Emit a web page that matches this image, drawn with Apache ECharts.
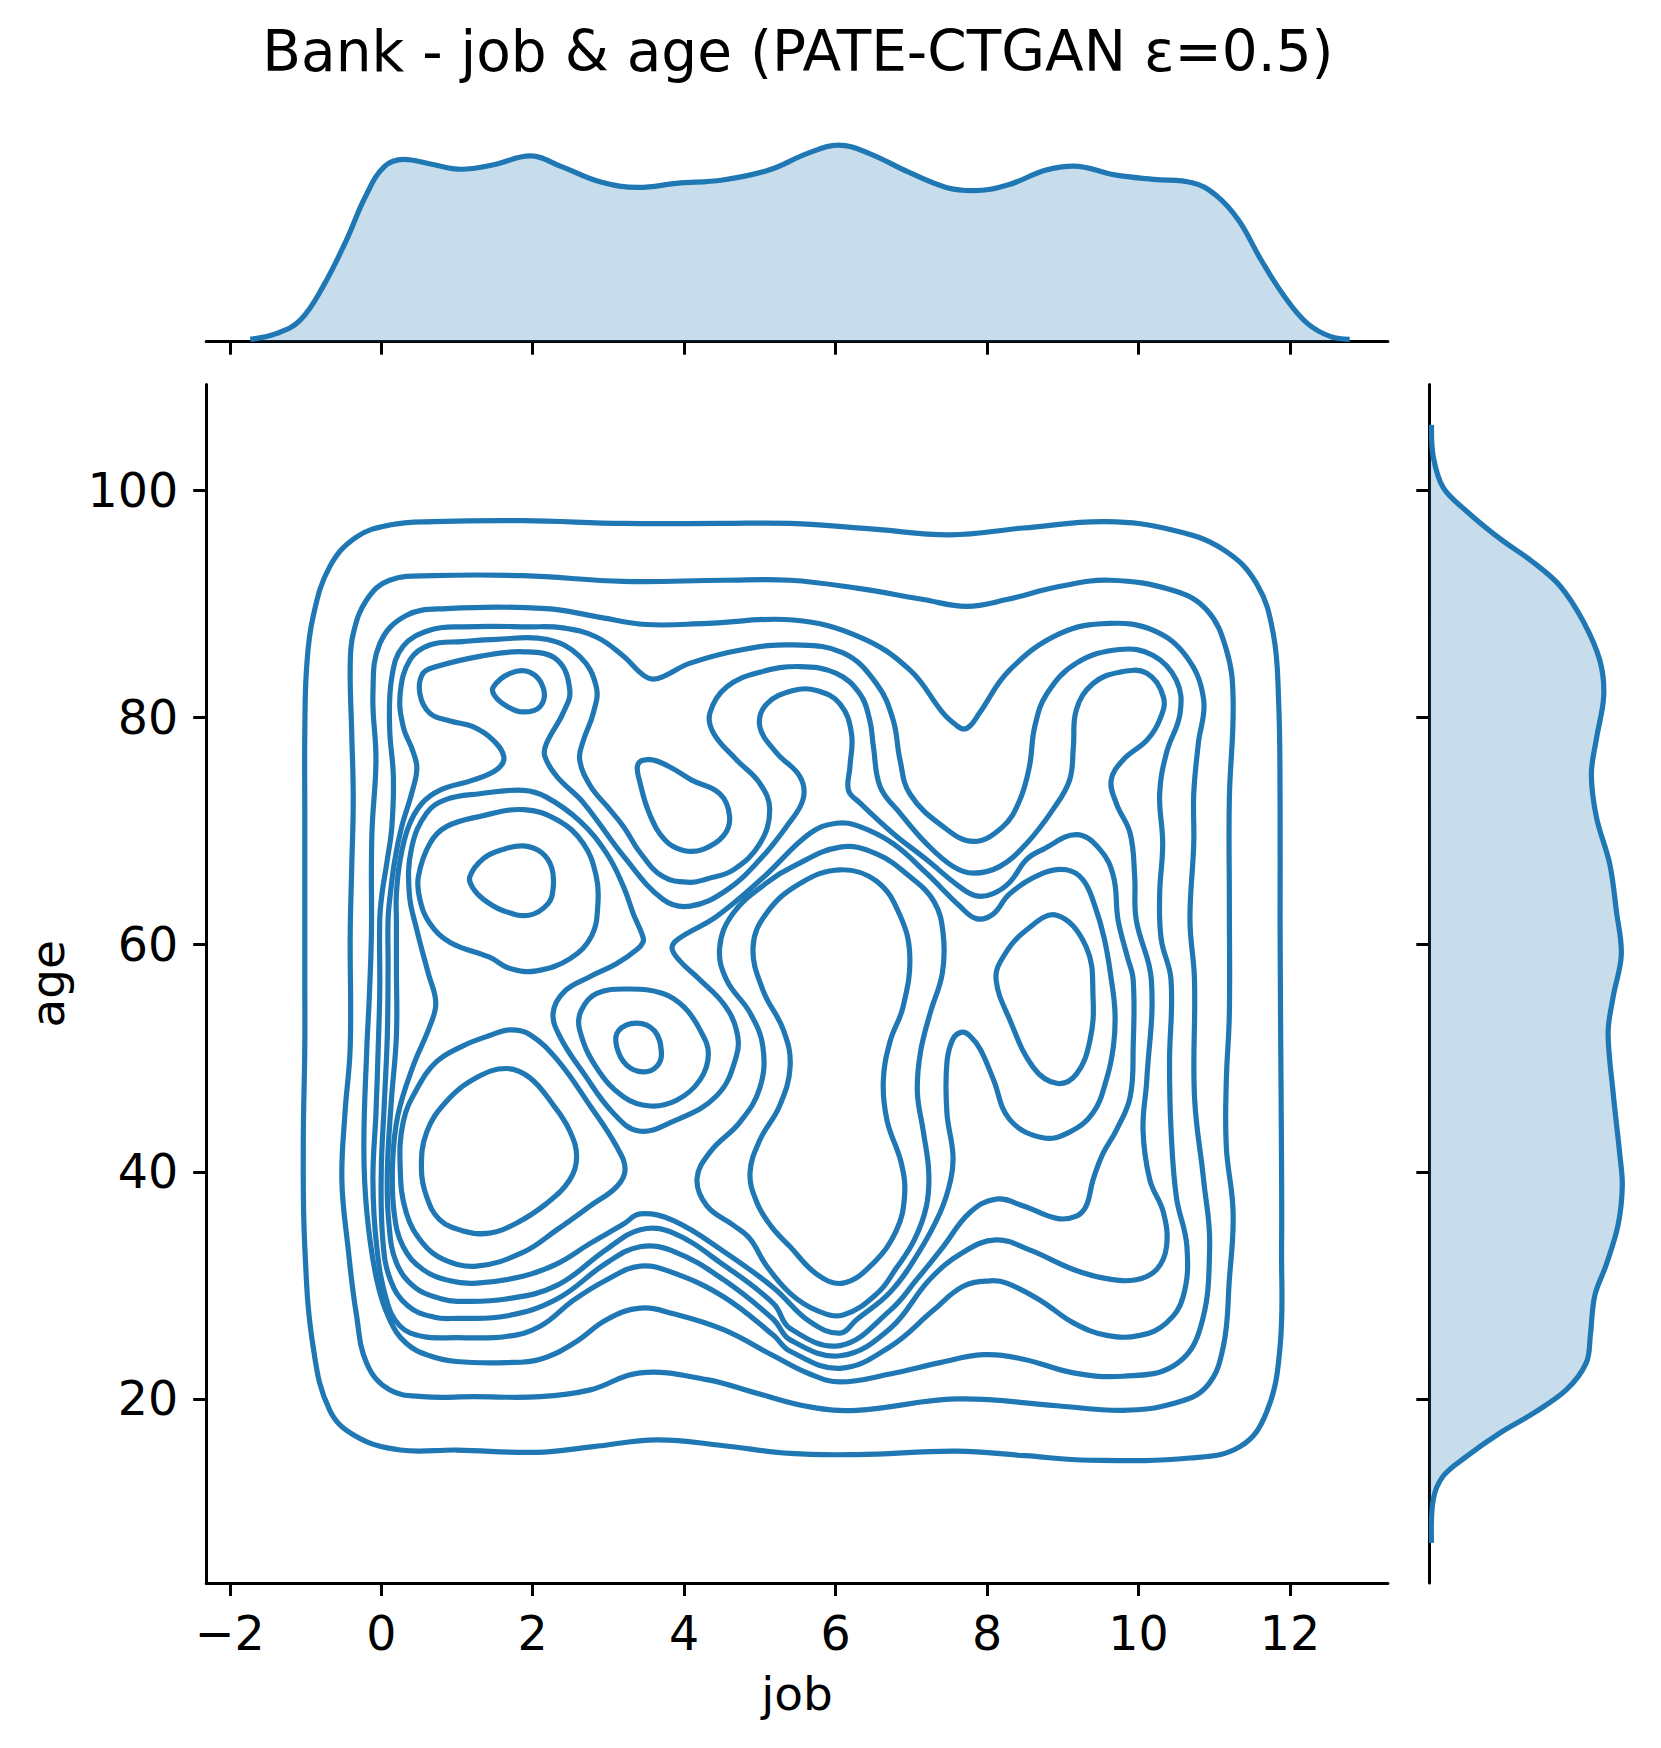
<!DOCTYPE html>
<html>
<head>
<meta charset="utf-8">
<script src="https://cdn.jsdelivr.net/npm/echarts/dist/echarts.min.js"></script>
<style>
html,body{margin:0;padding:0;background:#ffffff;}
#chart{width:1661px;height:1748px;}
</style>
</head>
<body>
<div id="chart"></div>
<script>
// ---------- tick values ----------
const jobTicks = [-2, 0, 2, 4, 6, 8, 10, 12];
const ageTicks = [20, 40, 60, 80, 100];

// ---------- marginal KDE of job (top) ----------
const jobKdeX = [-1.73,-1.38,-1.07,-0.77,-0.46,-0.21,0.04,0.30,0.65,1.06,1.47,1.97,2.38,2.89,3.40,3.90,4.51,5.12,5.63,6.04,6.44,6.95,7.46,7.82,8.27,8.78,9.14,9.69,10.20,10.71,11.02,11.32,11.62,11.93,12.23,12.54,12.79];
const jobKdeY = [0.0012,0.0041,0.0107,0.0273,0.0504,0.0719,0.0868,0.0904,0.0881,0.0855,0.0876,0.0921,0.0868,0.0793,0.0765,0.0785,0.0802,0.0851,0.0934,0.0975,0.0934,0.0843,0.0765,0.0749,0.0777,0.0851,0.0871,0.0827,0.0805,0.0788,0.0727,0.0603,0.0405,0.0223,0.0091,0.0025,0.0012];

// ---------- marginal KDE of age (right) ----------
const ageKdeAge = [105.78,103.0,100.25,98.18,95.76,93.69,91.62,88.51,85.05,81.94,78.14,75.03,71.23,67.09,62.95,59.14,55.35,52.24,47.06,41.53,38.77,35.31,31.86,29.09,25.64,23.22,20.81,18.73,17.0,14.94,13.21,11.13,7.33];
const ageKdeVal = [0.00016,0.00028,0.00099,0.00265,0.00502,0.00738,0.00928,0.01093,0.01212,0.0124,0.01188,0.01152,0.01188,0.01283,0.0133,0.01365,0.01306,0.01271,0.01306,0.01354,0.01372,0.01342,0.01259,0.01176,0.01145,0.01117,0.00975,0.00738,0.00502,0.00265,0.00099,0.00028,0.00016];

// ---------- joint KDE contour lines (closed loops), [job, age] ----------
const contourL1 = [
 [[-1.01,51.0],[-1.01,56.9],[-1.01,66.0],[-1.01,72.0],[-1.01,78.6],[-0.985,84.5],[-0.90,88.9],[-0.68,93.3],[-0.33,95.9],[0.11,96.96],[0.69,97.26],[1.88,97.35],[3.2,97.1],[4.5,97.1],[5.4,97.1],[6.5,96.6],[7.51,96.1],[8.48,96.7],[9.58,97.26],[10.46,96.5],[11.12,94.8],[11.56,91.8],[11.78,87.4],[11.85,81.6],[11.87,72.8],[11.87,62.0],[11.88,50.0],[11.89,40.0],[11.89,33.4],[11.87,24.6],[11.69,18.8],[11.34,15.8],[10.68,14.8],[9.36,14.6],[8.5,15.0],[7.6,15.4],[6.28,15.1],[5.40,15.2],[4.5,15.9],[3.64,16.4],[2.8,15.8],[2.05,15.3],[1.0,15.5],[0.25,15.5],[-0.33,16.7],[-0.68,19.0],[-0.90,24.6],[-1.01,33.4],[-1.03,42.2],[-1.01,51.0]]
];
const contourL2 = [
 [[-0.41,51.0],[-0.41,61.0],[-0.39,66.9],[-0.37,72.8],[-0.39,78.6],[-0.41,84.5],[-0.37,87.4],[-0.19,90.4],[0.11,92.1],[0.69,92.5],[1.88,92.5],[3.2,92.0],[4.52,92.1],[5.40,92.1],[6.28,91.4],[7.16,90.4],[7.73,89.8],[8.26,90.4],[8.92,91.5],[9.62,92.1],[10.46,91.2],[10.9,89.5],[11.16,86.0],[11.25,81.6],[11.2,72.8],[11.2,63.9],[11.2,53.9],[11.16,48.0],[11.16,42.2],[11.25,36.4],[11.2,30.5],[11.12,24.6],[10.9,21.1],[10.46,19.6],[9.8,19.0],[8.92,19.4],[7.6,20.0],[6.28,19.0],[5.66,19.3],[4.96,20.5],[4.3,21.7],[3.42,22.3],[2.76,20.8],[2.1,20.2],[1.22,20.2],[0.55,20.2],[0.11,20.8],[-0.19,23.1],[-0.33,27.5],[-0.44,33.4],[-0.52,39.2],[-0.48,45.1],[-0.41,51.0]]
];
const contourL3 = [
 [[-0.19,51.0],[-0.16,55.1],[-0.13,61.0],[-0.13,66.9],[-0.12,70.4],[-0.07,76.3],[-0.11,82.1],[-0.02,86.5],[0.33,89.0],[0.86,89.6],[2.18,89.6],[2.84,88.9],[3.5,88.2],[4.3,88.3],[5.44,88.6],[6.32,87.1],[6.98,84.2],[7.42,80.4],[7.6,79.3],[7.69,79.0],[7.78,79.3],[7.90,80.4],[8.30,84.2],[8.96,87.4],[9.62,88.3],[10.19,87.7],[10.63,85.4],[10.86,81.6],[10.79,77.7],[10.73,73.3],[10.73,68.9],[10.68,62.2],[10.74,56.9],[10.74,46.6],[10.86,39.3],[10.94,33.4],[10.81,26.1],[10.46,22.9],[9.80,22.0],[9.14,22.3],[8.48,23.5],[7.95,23.9],[7.38,23.2],[6.72,22.2],[6.06,21.5],[5.66,22.2],[5.18,23.8],[4.52,26.1],[3.86,27.5],[3.42,28.0],[2.98,27.0],[2.54,24.9],[2.10,23.5],[1.65,23.2],[0.99,23.3],[0.64,23.8],[0.33,24.9],[0.11,27.0],[-0.06,30.5],[-0.19,36.4],[-0.23,42.2],[-0.19,51.0]]
];
const contourL4 = [
 [[-0.02,56.0],[-0.02,62.2],[0.01,64.5],[0.08,67.5],[0.14,70.4],[0.16,74.8],[0.11,79.2],[0.14,83.6],[0.29,86.3],[0.64,87.7],[1.08,88.0],[1.96,88.0],[2.40,87.9],[2.84,87.1],[3.20,85.4],[3.45,83.8],[3.59,83.4],[3.75,83.7],[4.08,84.8],[4.78,86.0],[5.44,86.4],[6.10,85.7],[6.54,83.0],[6.76,79.8],[6.85,76.3],[6.98,73.3],[7.42,70.4],[7.82,69.1],[8.21,70.4],[8.43,72.7],[8.56,75.7],[8.63,79.2],[8.79,82.1],[9.18,84.8],[9.75,86.0],[10.19,85.5],[10.50,83.3],[10.55,80.4],[10.37,76.9],[10.28,73.3],[10.32,68.9],[10.28,64.5],[10.30,60.5],[10.43,56.9],[10.41,49.6],[10.43,43.7],[10.50,37.8],[10.64,33.4],[10.59,29.0],[10.37,26.7],[10.02,25.6],[9.58,25.6],[9.14,26.7],[8.70,28.7],[8.26,30.2],[8.04,30.4],[7.68,29.9],[7.29,27.8],[6.72,24.6],[6.06,22.7],[5.4,24.2],[5.18,25.6],[4.52,29.0],[3.86,31.1],[3.42,31.7],[2.98,30.5],[2.54,28.7],[2.10,26.4],[1.65,25.5],[0.99,25.4],[0.55,25.5],[0.25,26.4],[0.07,28.7],[-0.06,33.4],[-0.11,39.3],[-0.07,45.2],[-0.04,51.0],[-0.02,56.0]]
];
const contourL5 = [
 [[0.04,46.0],[0.08,52.0],[0.09,58.0],[0.09,62.2],[0.12,64.5],[0.18,67.5],[0.27,70.4],[0.40,73.3],[0.47,75.5],[0.42,77.0],[0.29,79.2],[0.25,82.1],[0.38,85.1],[0.64,86.4],[1.08,86.7],[1.52,86.9],[2.18,86.9],[2.62,85.4],[2.84,82.7],[2.80,80.4],[2.67,78.0],[2.62,76.3],[2.76,74.0],[2.98,72.2],[3.20,70.4],[3.42,68.1],[3.72,66.0],[4.08,65.5],[4.30,65.8],[4.65,66.6],[5.0,68.9],[5.13,71.9],[5.0,74.2],[4.69,76.3],[4.39,78.6],[4.34,80.4],[4.56,82.7],[5.0,84.0],[5.53,84.5],[6.01,83.9],[6.32,82.1],[6.45,79.8],[6.50,77.4],[6.59,73.9],[6.85,71.6],[7.20,68.9],[7.55,66.9],[7.82,66.3],[8.17,66.9],[8.52,68.9],[8.87,71.9],[9.09,74.5],[9.14,77.4],[9.18,80.7],[9.40,83.0],[9.75,84.0],[10.11,83.9],[10.33,81.8],[10.28,79.8],[10.11,78.0],[9.80,76.3],[9.64,74.5],[9.71,72.4],[9.89,69.8],[9.95,66.0],[9.97,62.2],[10.17,56.9],[10.11,48.1],[10.06,43.7],[10.15,39.3],[10.33,36.4],[10.37,33.4],[10.24,31.4],[9.97,30.5],[9.58,30.6],[9.14,31.4],[8.57,33.1],[8.12,34.0],[7.68,32.9],[7.24,30.5],[6.72,26.2],[6.06,23.8],[5.4,25.2],[5.18,27.0],[4.52,30.5],[3.86,33.0],[3.42,33.4],[2.98,32.0],[2.32,28.8],[1.65,27.3],[1.0,27.1],[0.7,27.2],[0.35,28.2],[0.12,30.5],[0.02,34.0],[0.0,40.0],[0.04,46.0]],
 [[3.39,75.9],[3.55,76.3],[3.8,75.7],[4.1,74.5],[4.47,73.3],[4.60,71.3],[4.52,69.6],[4.25,68.4],[3.99,68.3],[3.75,69.2],[3.55,71.4],[3.42,74.2],[3.39,75.9]]
];
const contourL6 = [
 [[0.13,46.0],[0.2,52.0],[0.2,58.0],[0.2,62.0],[0.2,64.5],[0.25,67.5],[0.36,70.4],[0.53,72.4],[0.77,73.6],[1.21,74.5],[1.52,75.4],[1.62,76.5],[1.48,78.0],[1.21,79.2],[0.91,79.7],[0.64,80.4],[0.51,82.1],[0.55,83.9],[0.73,84.5],[1.30,85.4],[1.88,85.8],[2.32,85.1],[2.49,82.4],[2.40,80.4],[2.18,77.7],[2.16,76.6],[2.32,74.8],[2.67,72.5],[3.20,67.8],[3.72,64.0],[4.08,63.4],[4.56,64.8],[5.0,67.5],[5.35,70.4],[5.57,72.8],[5.53,74.8],[5.22,76.9],[5.0,79.2],[5.09,81.2],[5.44,82.4],[5.75,82.4],[6.06,81.2],[6.21,78.6],[6.19,75.7],[6.17,73.6],[6.32,72.5],[6.76,69.8],[7.20,67.5],[7.64,65.1],[7.86,64.3],[8.08,64.5],[8.30,65.5],[8.52,67.5],[8.74,68.4],[9.18,69.7],[9.49,68.4],[9.67,66.0],[9.73,62.2],[9.85,59.0],[9.93,56.9],[9.93,51.0],[9.89,46.6],[9.71,43.7],[9.53,41.6],[9.40,39.3],[9.31,37.0],[9.18,36.1],[8.92,35.9],[8.48,37.0],[8.12,37.6],[7.77,36.4],[7.42,33.4],[7.07,30.5],[6.72,27.8],[6.06,24.7],[5.4,26.2],[5.18,28.4],[4.52,31.8],[3.86,34.6],[3.42,34.9],[2.98,33.2],[2.32,30.0],[1.65,28.8],[1.0,28.6],[0.8,28.8],[0.45,29.8],[0.2,32.0],[0.1,35.5],[0.08,40.0],[0.13,46.0]]
];
const contourL7 = [
 [[0.22,45.0],[0.42,49.3],[0.64,52.8],[0.72,54.9],[0.62,57.5],[0.47,61.3],[0.37,64.5],[0.40,68.5],[0.60,71.6],[0.86,72.8],[1.30,73.3],[1.88,73.6],[2.18,73.0],[2.62,70.9],[2.98,68.0],[3.20,65.1],[3.33,62.7],[3.44,61.0],[3.46,60.3],[3.38,59.6],[3.10,58.3],[2.76,57.2],[2.42,55.9],[2.27,54.0],[2.36,51.9],[2.67,48.7],[3.06,45.2],[3.40,43.6],[3.84,44.4],[4.43,46.7],[4.69,50.2],[4.69,52.5],[4.52,54.8],[4.21,56.9],[3.94,58.6],[3.84,59.7],[3.92,60.5],[4.43,62.5],[5.04,65.9],[5.66,69.8],[6.01,70.7],[6.32,70.4],[6.76,68.9],[7.20,66.3],[7.64,63.4],[7.86,62.3],[8.08,62.7],[8.30,64.5],[8.74,66.3],[9.05,66.6],[9.27,65.7],[9.42,63.5],[9.55,60.5],[9.64,57.0],[9.69,54.0],[9.67,51.1],[9.58,48.2],[9.40,45.2],[9.09,43.5],[8.74,43.0],[8.30,44.6],[8.08,48.2],[7.91,50.8],[7.77,52.0],[7.67,52.3],[7.55,51.7],[7.47,49.6],[7.47,45.2],[7.55,41.5],[7.52,39.3],[7.38,36.4],[7.07,32.6],[6.72,29.4],[6.28,27.0],[6.06,25.8],[5.66,26.8],[5.18,29.8],[4.52,33.0],[3.86,35.7],[3.42,36.3],[3.20,35.4],[2.76,33.7],[2.32,31.9],[1.87,30.8],[1.26,30.2],[0.91,30.4],[0.55,31.4],[0.29,33.4],[0.17,36.4],[0.15,40.8],[0.22,45.0]],
 [[1.48,82.7],[1.70,83.9],[1.96,84.0],[2.14,82.6],[2.10,81.0],[1.88,80.5],[1.66,81.0],[1.50,81.9],[1.48,82.7]],
 [[2.62,52.5],[2.64,54.2],[2.84,55.7],[3.28,56.1],[3.72,55.7],[4.0,54.5],[4.21,52.5],[4.32,50.4],[4.21,48.1],[3.90,46.3],[3.55,45.8],[3.20,46.6],[2.84,49.2],[2.62,52.5]]
];
const contourL8 = [
 [[0.49,66.0],[0.64,68.9],[0.86,70.4],[1.30,71.3],[1.88,71.9],[2.32,71.0],[2.67,68.9],[2.84,66.0],[2.86,63.5],[2.78,60.8],[2.50,58.8],[2.05,57.7],[1.70,57.9],[1.43,58.9],[0.91,60.2],[0.64,61.9],[0.51,64.0],[0.49,66.0]],
 [[1.70,52.5],[1.96,52.1],[2.32,49.9],[2.76,45.8],[3.11,42.2],[3.22,40.2],[3.11,38.7],[2.76,37.0],[2.32,34.9],[1.87,32.9],[1.26,31.7],[0.82,32.3],[0.55,33.7],[0.33,36.4],[0.25,40.3],[0.29,44.4],[0.47,47.3],[0.73,49.7],[1.08,51.1],[1.43,52.0],[1.70,52.5]],
 [[6.06,68.6],[6.54,68.0],[6.98,66.0],[7.30,63.8],[7.42,61.0],[7.41,57.5],[7.25,54.0],[7.12,50.5],[7.08,47.0],[7.16,43.5],[7.23,40.0],[7.20,37.0],[7.04,34.0],[6.80,31.5],[6.55,29.3],[6.10,27.4],[5.75,27.8],[5.40,29.3],[5.08,31.8],[4.87,34.1],[4.65,35.3],[4.30,37.0],[4.17,39.4],[4.35,41.8],[4.74,44.4],[5.00,47.4],[5.04,51.0],[4.87,54.0],[4.56,56.9],[4.47,59.8],[4.65,62.8],[5.10,65.5],[5.44,66.9],[6.06,68.6]],
 [[8.92,62.6],[9.31,59.8],[9.40,55.4],[9.36,51.6],[9.18,48.6],[8.92,47.8],[8.61,49.2],[8.30,53.4],[8.12,56.9],[8.21,58.9],[8.52,61.3],[8.92,62.6]],
 [[3.13,52.4],[3.37,53.1],[3.61,52.4],[3.70,50.5],[3.64,49.3],[3.46,48.8],[3.24,49.4],[3.11,51.0],[3.13,52.4]]
];
const contourL9 = [
 [[1.17,66.0],[1.35,67.6],[1.61,68.4],[1.88,68.7],[2.12,68.1],[2.25,66.8],[2.27,65.0],[2.2,63.6],[1.95,62.6],[1.61,63.0],[1.35,64.0],[1.21,65.0],[1.17,66.0]],
 [[0.53,40.3],[0.60,43.5],[0.86,46.2],[1.26,48.3],[1.65,49.1],[1.96,48.3],[2.27,45.9],[2.49,43.6],[2.58,41.3],[2.49,39.3],[2.18,37.2],[1.79,35.5],[1.43,34.6],[1.08,34.8],[0.77,35.8],[0.60,37.8],[0.53,40.3]],
 [[5.04,56.0],[4.91,59.8],[5.09,62.8],[5.53,65.4],[6.06,66.6],[6.54,65.6],[6.85,62.6],[6.98,59.0],[6.89,54.5],[6.72,51.5],[6.63,48.0],[6.68,44.5],[6.87,40.7],[6.91,37.8],[6.80,34.8],[6.49,31.9],[6.10,30.2],[5.75,31.0],[5.40,33.4],[5.15,35.2],[4.96,37.3],[4.87,39.9],[5.00,42.8],[5.26,45.8],[5.40,49.3],[5.31,52.5],[5.04,56.0]]
];

// ---------- chart ----------
const BLUE = '#1f77b4';
const FILL = 'rgba(31,119,180,0.25)';
const FONT = 'DejaVu Sans';
const LW = 5.2;
const jobMin = -2.312, jobMax = 13.294;
const ageMin = 3.79, ageMax = 109.33;
const fmtNum = v => (v < 0 ? '\u2212' + Math.abs(v) : String(v));

const chart = echarts.init(document.getElementById('chart'), null, {renderer: 'svg', width: 1661, height: 1748});

const series = [];
// each contour level: closed, smoothly-joined loops placed through the main axes
[contourL1, contourL2, contourL3, contourL4, contourL5, contourL6, contourL7, contourL8, contourL9].forEach(level => {
  series.push({
    type: 'custom', xAxisIndex: 0, yAxisIndex: 0, coordinateSystem: 'cartesian2d',
    data: level.map((loop, i) => [loop[0][0], loop[0][1], i]),
    silent: true, z: 3,
    renderItem: (params, api) => {
      const loop = level[params.dataIndex];
      const pts = loop.slice(0, loop.length - 1).map(p => api.coord(p));
      return {
        type: 'polygon',
        shape: {points: pts, smooth: 0.4},
        style: {fill: 'none', stroke: BLUE, lineWidth: LW, lineJoin: 'round'}
      };
    }
  });
});

// top marginal
series.push({
  type: 'line', xAxisIndex: 1, yAxisIndex: 1,
  data: jobKdeX.map((x, i) => [x, jobKdeY[i]]),
  smooth: 0.4, symbol: 'none', showSymbol: false, silent: true,
  lineStyle: {color: BLUE, width: LW},
  areaStyle: {color: FILL, opacity: 1}, z: 3
});

// right marginal (fill + curve)
series.push({
  type: 'custom', xAxisIndex: 2, yAxisIndex: 2, coordinateSystem: 'cartesian2d',
  data: [[0, ageKdeAge[0]]], silent: true, z: 3,
  renderItem: (params, api) => {
    const curve = ageKdeAge.map((a, i) => api.coord([ageKdeVal[i], a]));
    const poly = [api.coord([0, ageKdeAge[0]])].concat(curve, [api.coord([0, ageKdeAge[ageKdeAge.length - 1]])]);
    return {
      type: 'group',
      children: [
        {type: 'polygon', shape: {points: poly, smooth: 0.35}, style: {fill: FILL, stroke: null}},
        {type: 'polyline', shape: {points: curve, smooth: 0.35}, style: {fill: null, stroke: BLUE, lineWidth: LW}}
      ]
    };
  }
});

const axisLineStyle = {color: '#000', width: 3};
const tickStyle = {color: '#000', width: 3};

chart.setOption({
  animation: false,
  backgroundColor: '#ffffff',
  textStyle: {fontFamily: FONT},
  grid: [
    {left: 206.2, top: 384.6, width: 1181.7, height: 1198.4, outerBoundsMode: 'none', containLabel: false},
    {left: 206.2, top: 101.7, width: 1181.7, height: 240, outerBoundsMode: 'none', containLabel: false},
    {left: 1429.3, top: 384.6, width: 231.7, height: 1198.4, outerBoundsMode: 'none', containLabel: false}
  ],
  xAxis: [
    {
      type: 'value', gridIndex: 0, min: jobMin, max: jobMax, position: 'bottom',
      axisLine: {show: true, onZero: false, lineStyle: axisLineStyle},
      axisTick: {show: true, inside: false, length: 13, customValues: jobTicks, lineStyle: tickStyle},
      axisLabel: {show: true, customValues: jobTicks, formatter: fmtNum, fontSize: 47.5, color: '#000', fontFamily: FONT, margin: 26},
      splitLine: {show: false},
      name: 'job', nameLocation: 'middle', nameGap: 87,
      nameTextStyle: {fontSize: 47, color: '#000', fontFamily: FONT}
    },
    {
      type: 'value', gridIndex: 1, min: jobMin, max: jobMax, position: 'bottom',
      axisLine: {show: true, onZero: false, lineStyle: axisLineStyle},
      axisTick: {show: true, inside: false, length: 13, customValues: jobTicks, lineStyle: tickStyle},
      axisLabel: {show: false}, splitLine: {show: false}
    },
    {
      type: 'value', gridIndex: 2, min: 0, max: 0.01647, show: false,
      splitLine: {show: false}
    }
  ],
  yAxis: [
    {
      type: 'value', gridIndex: 0, min: ageMin, max: ageMax, position: 'left',
      axisLine: {show: true, onZero: false, lineStyle: axisLineStyle},
      axisTick: {show: true, inside: false, length: 13, customValues: ageTicks, lineStyle: tickStyle},
      axisLabel: {show: true, customValues: ageTicks, formatter: fmtNum, fontSize: 47.5, color: '#000', fontFamily: FONT, margin: 28},
      splitLine: {show: false},
      name: 'age', nameLocation: 'middle', nameGap: 135,
      nameTextStyle: {fontSize: 47, color: '#000', fontFamily: FONT}
    },
    {
      type: 'value', gridIndex: 1, min: 0, max: 0.119, show: false,
      splitLine: {show: false}
    },
    {
      type: 'value', gridIndex: 2, min: ageMin, max: ageMax, position: 'left',
      axisLine: {show: true, onZero: false, lineStyle: axisLineStyle},
      axisTick: {show: true, inside: false, length: 13, customValues: ageTicks, lineStyle: tickStyle},
      axisLabel: {show: false}, splitLine: {show: false}
    }
  ],
  graphic: [
    {
      type: 'text', x: 798, y: 51, silent: true,
      style: {text: 'Bank - job & age (PATE-CTGAN \u03b5=0.5)', fill: '#000', fontSize: 56.5, fontFamily: FONT, textAlign: 'center', textVerticalAlign: 'middle'}
    }
  ],
  series: series
});
</script>
</body>
</html>
